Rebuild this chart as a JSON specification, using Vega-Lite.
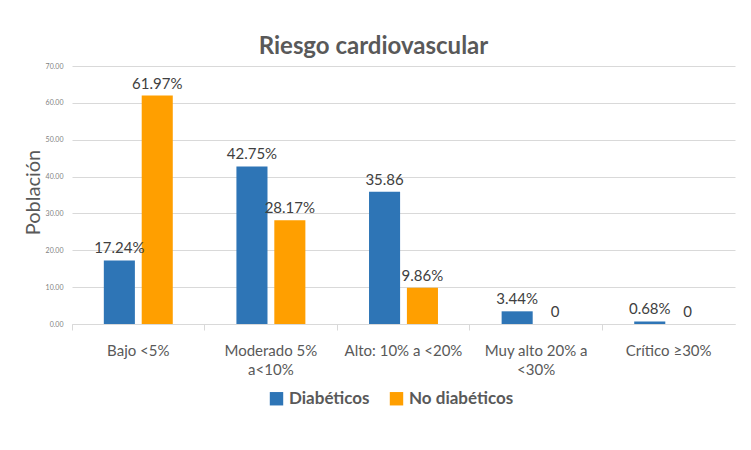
{
  "$schema": "https://vega.github.io/schema/vega-lite/v6.json",
  "autosize": {"type": "none"},
  "width": 663,
  "height": 258,
  "padding": {"left": 72, "top": 66, "right": 16, "bottom": 126},
  "background": "white",
  "title": {
    "text": "Riesgo cardiovascular",
    "font": "Lato",
    "fontSize": 24,
    "fontWeight": "bold",
    "color": "#595959",
    "anchor": "middle",
    "dx": -30,
    "offset": 3
  },
  "data": {
    "values": [
      {"categoria": "Bajo <5%", "grupo": "Diabéticos", "valor": 17.24, "etiqueta": "17.24%"},
      {"categoria": "Bajo <5%", "grupo": "No diabéticos", "valor": 61.97, "etiqueta": "61.97%"},
      {"categoria": "Moderado 5% a<10%", "grupo": "Diabéticos", "valor": 42.75, "etiqueta": "42.75%"},
      {"categoria": "Moderado 5% a<10%", "grupo": "No diabéticos", "valor": 28.17, "etiqueta": "28.17%"},
      {"categoria": "Alto: 10% a <20%", "grupo": "Diabéticos", "valor": 35.86, "etiqueta": "35.86"},
      {"categoria": "Alto: 10% a <20%", "grupo": "No diabéticos", "valor": 9.86, "etiqueta": "9.86%"},
      {"categoria": "Muy alto 20% a <30%", "grupo": "Diabéticos", "valor": 3.44, "etiqueta": "3.44%"},
      {"categoria": "Muy alto 20% a <30%", "grupo": "No diabéticos", "valor": 0, "etiqueta": "0"},
      {"categoria": "Crítico ≥30%", "grupo": "Diabéticos", "valor": 0.68, "etiqueta": "0.68%"},
      {"categoria": "Crítico ≥30%", "grupo": "No diabéticos", "valor": 0, "etiqueta": "0"}
    ]
  },
  "encoding": {
    "x": {
      "field": "categoria",
      "type": "nominal",
      "sort": null,
      "scale": {"paddingInner": 0, "paddingOuter": 0},
      "axis": {
        "title": null,
        "labelAngle": 0,
        "labelFont": "Lato",
        "labelFontSize": 15,
        "labelColor": "#595959",
        "labelPadding": 13,
        "labelLineHeight": 19,
        "labelExpr": "datum.value == 'Moderado 5% a<10%' ? ['Moderado 5%', 'a<10%'] : datum.value == 'Muy alto 20% a <30%' ? ['Muy alto 20% a', '<30%'] : datum.value",
        "domainColor": "#d9d9d9",
        "tickColor": "#d9d9d9",
        "ticks": true,
        "tickSize": 6,
        "bandPosition": 0,
        "grid": false
      }
    },
    "xOffset": {
      "field": "grupo",
      "type": "nominal",
      "scale": {"paddingInner": 0.18, "paddingOuter": 0.84}
    },
    "y": {
      "field": "valor",
      "type": "quantitative",
      "scale": {"domain": [0, 70]},
      "axis": {
        "title": "Población",
        "titleFont": "Lato",
        "titleFontSize": 20,
        "titleFontWeight": "normal",
        "titleColor": "#595959",
        "titleX": -29,
        "titleY": 126,
        "titleAlign": "center",
        "values": [0, 10, 20, 30, 40, 50, 60, 70],
        "format": ".2f",
        "labelFont": "Lato",
        "labelFontSize": 7,
        "labelColor": "#7f7f7f",
        "labelPadding": 9,
        "domain": false,
        "ticks": false,
        "gridColor": "#d9d9d9",
        "gridWidth": 1
      }
    }
  },
  "layer": [
    {
      "mark": {"type": "bar"},
      "encoding": {
        "color": {
          "field": "grupo",
          "type": "nominal",
          "scale": {"domain": ["Diabéticos", "No diabéticos"], "range": ["#2E75B6", "#FF9F00"]},
          "legend": {
            "title": null,
            "orient": "none",
            "direction": "horizontal",
            "legendX": 196,
            "legendY": 324,
            "symbolType": "square",
            "symbolSize": 180,
            "symbolStrokeWidth": 0,
            "labelFont": "Lato",
            "labelFontSize": 17,
            "labelFontWeight": "bold",
            "labelColor": "#595959",
            "columnPadding": 18,
            "labelOffset": 4
          }
        }
      }
    },
    {
      "mark": {"type": "text", "baseline": "bottom", "dy": -4, "font": "Lato", "fontSize": 15, "color": "#404040"},
      "encoding": {
        "text": {"field": "etiqueta", "type": "nominal"}
      }
    }
  ],
  "config": {
    "view": {"stroke": null}
  }
}
